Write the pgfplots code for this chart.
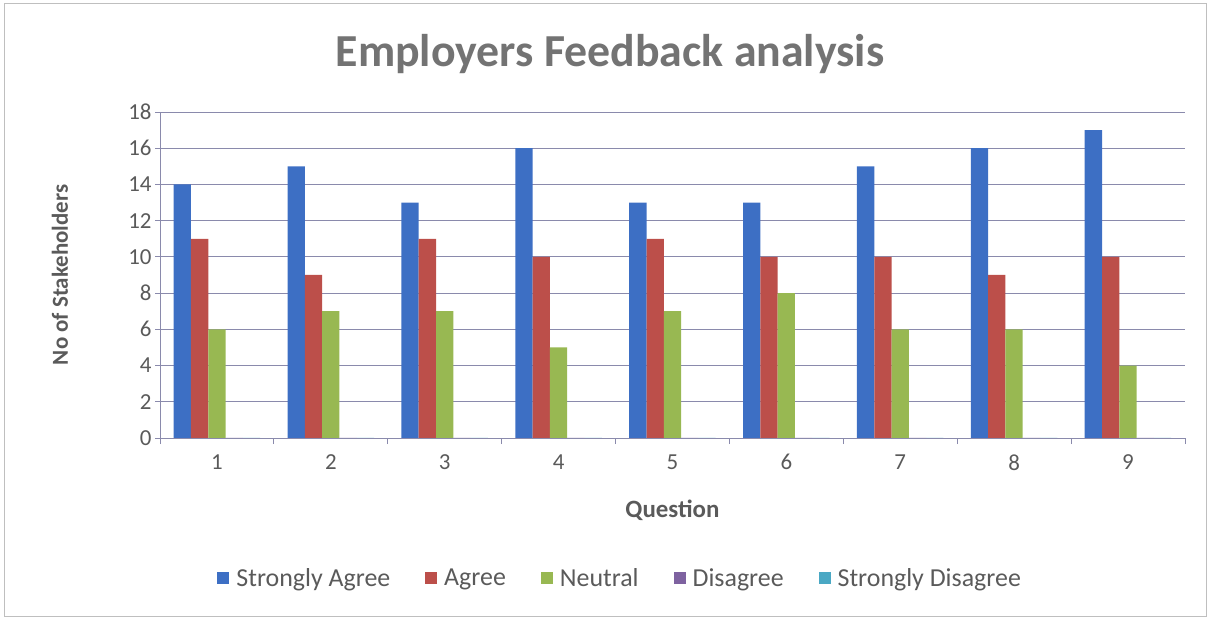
\documentclass[border=0pt]{standalone}
\usepackage{pgfplots}
\pgfplotsset{compat=1.18}
\usepackage{fontspec}
\setmainfont{Carlito}
\definecolor{sa}{HTML}{3D6FC4}
\definecolor{ag}{HTML}{BC4F4A}
\definecolor{ne}{HTML}{98B852}
\definecolor{di}{HTML}{7E62A0}
\definecolor{sd}{HTML}{4AA8C4}
\definecolor{txt}{HTML}{5A5A5A}
\definecolor{gridc}{HTML}{8A8AAC}
\begin{document}
\begin{tikzpicture}
\path[use as bounding box] (0,0) rectangle (1218bp,620bp);
\draw[black!25, line width=1pt] (4bp,4bp) rectangle (1206bp,616bp);
\node[font=\bfseries\fontsize{46}{50}\selectfont, text=txt!85] at (610bp,566bp) {Employers Feedback analysis};
\begin{axis}[
  at={(160bp,182bp)}, anchor=south west,
  scale only axis, width=1025bp, height=326bp,
  ybar=0pt, bar width=17.3bp,
  xmin=0.5, xmax=9.5, ymin=0, ymax=18,
  xtick={1,...,9}, major x tick style={draw=none},
  minor xtick={0.5,1.5,...,9.5},
  xmajorgrids=false, xminorgrids=false,
  minor x tick style={gridc, line width=0.8pt},
  ytick={0,2,...,18},
  axis x line=bottom, axis y line=left,
  axis line style={-, gridc, line width=0.8pt},
  y tick style={gridc, line width=0.8pt},
  tick align=outside, major tick length=5bp, minor tick length=6bp,
  ymajorgrids, major grid style={gridc, line width=0.9pt},
  every tick label/.append style={font=\fontsize{23}{25}\selectfont, text=txt},
  /pgf/number format/assume math mode=true,
  xticklabel style={yshift=-8bp},
  xlabel={Question}, ylabel={No of Stakeholders},
  xlabel style={font=\bfseries\fontsize{25}{28}\selectfont, text=txt, at={(axis description cs:0.5,0)}, anchor=center, yshift=-72bp},
  ylabel style={font=\bfseries\fontsize{23}{26}\selectfont, text=txt, at={(axis description cs:-0.0976,0.5)}, anchor=center},
  legend columns=5,
  legend style={draw=none, fill=none, at={(0.449,-0.43)}, anchor=center, font=\fontsize{26}{28}\selectfont, text=txt,
    /tikz/every even column/.append style={column sep=33bp},
    /tikz/every odd column/.append style={column sep=5bp}},
  legend image code/.code={\fill[#1] (0bp,-6bp) rectangle (12bp,6bp);},
]
\addplot[fill=sa, draw=none] coordinates {(1,14) (2,15) (3,13) (4,16) (5,13) (6,13) (7,15) (8,16) (9,17)};
\addplot[fill=ag, draw=none] coordinates {(1,11) (2,9) (3,11) (4,10) (5,11) (6,10) (7,10) (8,9) (9,10)};
\addplot[fill=ne, draw=none] coordinates {(1,6) (2,7) (3,7) (4,5) (5,7) (6,8) (7,6) (8,6) (9,4)};
\addplot[fill=di, draw=none] coordinates {(1,0) (2,0) (3,0) (4,0) (5,0) (6,0) (7,0) (8,0) (9,0)};
\addplot[fill=sd, draw=none] coordinates {(1,0) (2,0) (3,0) (4,0) (5,0) (6,0) (7,0) (8,0) (9,0)};
\legend{Strongly Agree, Agree, Neutral, Disagree, Strongly Disagree}
\end{axis}
\end{tikzpicture}
\end{document}
